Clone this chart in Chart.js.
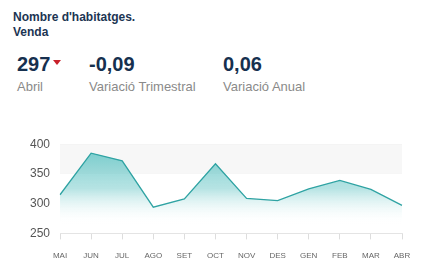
<!DOCTYPE html>
<html>
<head>
<meta charset="utf-8">
<script src="https://cdn.jsdelivr.net/npm/chart.js@4.4.0/dist/chart.umd.min.js"></script>
<style>
  body { margin: 0; width: 437px; height: 278px; background: #fff; font-family: "Liberation Sans", Arial, sans-serif; position: relative; overflow: hidden; }
  .title { position: absolute; left: 13px; top: 10px; font-size: 12px; font-weight: bold; color: #1c3553; line-height: 15px; }
  .kpi { position: absolute; top: 52px; }
  .kpi .val { font-size: 20px; font-weight: bold; color: #16304f; line-height: 24px; }
  .kpi .lbl { font-size: 13px; color: #8a8a8a; margin-top: 3px; }
  .tri { display: inline-block; width: 0; height: 0; border-left: 4px solid transparent; border-right: 4px solid transparent; border-top: 5px solid #c8202a; vertical-align: top; margin-top: 8px; margin-left: 3px; }
  #wrap { position: absolute; left: 0; top: 127px; width: 437px; height: 151px; }
</style>
</head>
<body>
<div class="title">Nombre d'habitatges.<br>Venda</div>
<div class="kpi" style="left:17px"><div class="val">297<span class="tri"></span></div><div class="lbl">Abril</div></div>
<div class="kpi" style="left:89px"><div class="val">-0,09</div><div class="lbl">Variació Trimestral</div></div>
<div class="kpi" style="left:223px"><div class="val">0,06</div><div class="lbl">Variació Anual</div></div>
<div id="wrap"><canvas id="chart"></canvas></div>
<script>
const months = ['MAI', 'JUN', 'JUL', 'AGO', 'SET', 'OCT', 'NOV', 'DES', 'GEN', 'FEB', 'MAR', 'ABR'];
const habitatges = [315, 385, 372, 294, 308, 367, 309, 305, 325, 339, 324, 297];
const yTicks = [250, 300, 350, 400];

// franja grisa entre 350 i 400
const bandPlugin = {
  id: 'band',
  beforeDatasetsDraw(chart) {
    const { ctx, chartArea, scales } = chart;
    const y1 = scales.y.getPixelForValue(400);
    const y2 = scales.y.getPixelForValue(350);
    ctx.save();
    ctx.fillStyle = '#f7f7f7';
    ctx.fillRect(chartArea.left, y1, chartArea.right - chartArea.left, y2 - y1);
    ctx.restore();
  }
};

new Chart(document.getElementById('chart'), {
  type: 'line',
  data: {
    labels: months,
    datasets: [{
      data: habitatges,
      borderColor: '#2fa3a3',
      borderWidth: 1.3,
      pointRadius: 0,
      tension: 0,
      fill: 'start',
      backgroundColor(context) {
        const area = context.chart.chartArea;
        if (!area) return 'rgba(100,200,200,0.6)';
        const g = context.chart.ctx.createLinearGradient(0, area.top, 0, area.bottom);
        g.addColorStop(0, 'rgba(75,190,190,0.8)');
        g.addColorStop(0.5, 'rgba(110,200,200,0.5)');
        g.addColorStop(0.9, 'rgba(255,255,255,0)');
        return g;
      }
    }]
  },
  options: {
    responsive: true,
    maintainAspectRatio: false,
    animation: false,
    layout: { padding: { left: 20, right: 35, top: 4, bottom: 5 } },
    plugins: { legend: { display: false }, tooltip: { enabled: false } },
    scales: {
      x: {
        offset: false,
        grid: { drawOnChartArea: false, drawTicks: true, tickLength: 6, color: '#dddddd' },
        border: { color: '#e4e4e4' },
        ticks: { color: '#666', font: { size: 8, family: 'Liberation Sans' }, padding: 12, maxRotation: 0, autoSkip: false }
      },
      y: {
        min: 250,
        max: 400,
        afterBuildTicks(axis) { axis.ticks = yTicks.map(v => ({ value: v })); },
        grid: {
          drawTicks: false,
          color(ctx) { return ctx.tick && ctx.tick.value === 300 ? 'rgba(0,0,0,0)' : '#ebebeb'; }
        },
        border: { display: false },
        ticks: { color: '#555', font: { size: 12, family: 'Liberation Sans' }, padding: 10 }
      }
    }
  },
  plugins: [bandPlugin]
});
</script>
</body>
</html>
